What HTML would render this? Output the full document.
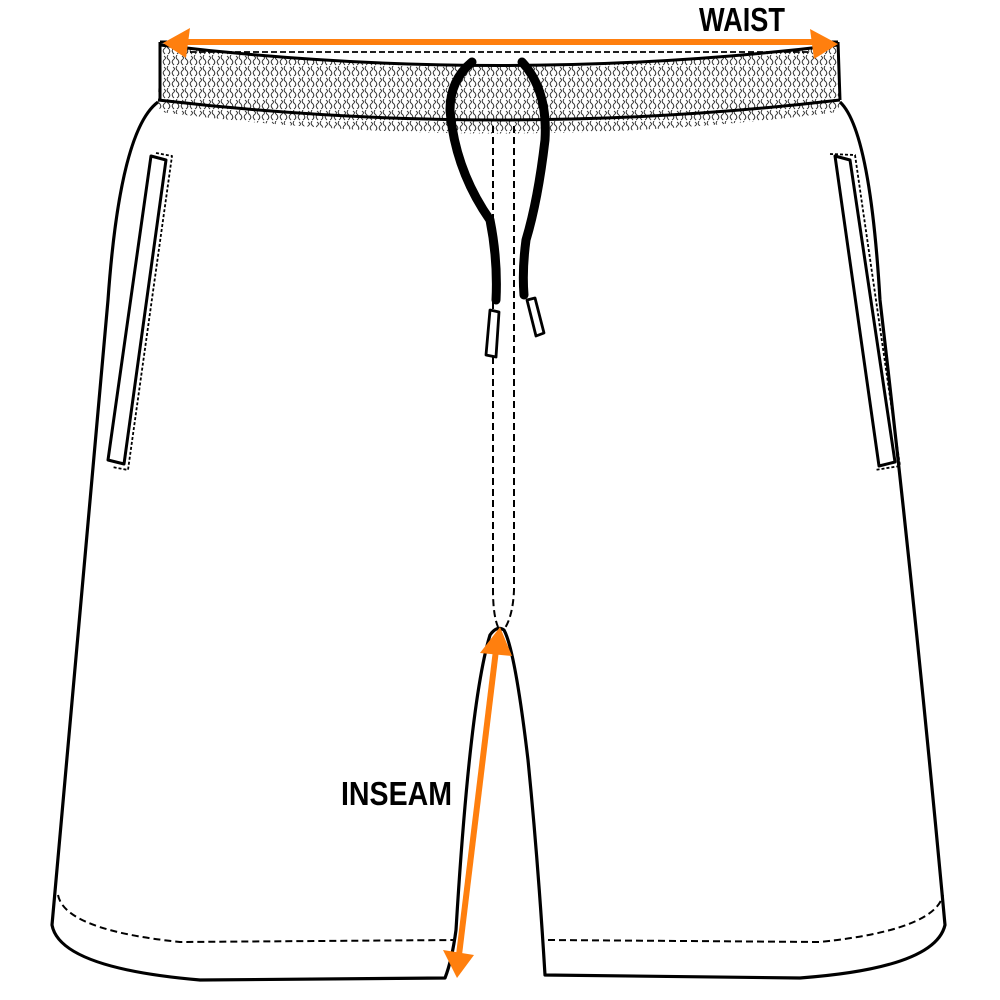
<!DOCTYPE html>
<html><head><style>html,body{margin:0;padding:0;background:#fff}svg{display:block}</style></head>
<body>
<svg width="1000" height="1000" viewBox="0 0 1000 1000" xmlns="http://www.w3.org/2000/svg">
<defs>
<pattern id="tx" width="9" height="11" patternUnits="userSpaceOnUse">
<path d="M2 1 q3 2 0 4 q-2 2 1 5 M6 0 q-2 3 1 5 q2 3 -1 5" stroke="#333" stroke-width="1" fill="none"/>
</pattern>
</defs>
<g fill="none" stroke="#000" stroke-width="3" stroke-linejoin="round">
<!-- waistband texture -->
<path d="M160 42 L838 42 L840 100 Q500 140 158 100 Z" fill="url(#tx)" stroke="none"/>
<path d="M158 100 Q500 140 840 100 L838 112 Q500 155 160 112 Z" fill="url(#tx)" stroke="none"/>
<path d="M160 44 Q500 86 838 44 L838 42 L160 42 Z" fill="#fff" stroke="none"/>
<path d="M160 42 L160 100 M838 42 L840 100"/>
<path d="M160 42 L838 42"/>
<path d="M160 45 Q500 86 838 45"/>
<path d="M190 52 L810 52" stroke-width="1.8" stroke-dasharray="6 3"/>
<path d="M158 100 Q500 140 840 100"/>
<!-- body -->
<path d="M158 102 Q120 130 108 300 Q80 600 52 925 Q60 968 200 980 L445 978 Q452 960 456 930 Q470 700 490 635 Q497 625 504 630 Q515 650 528 760 Q538 860 545 975 L800 978 Q935 968 945 925 Q915 600 880 300 Q870 130 840 102" stroke-width="3.2"/>
<!-- hems -->
<path d="M58 895 Q65 930 180 942 L455 940" stroke-width="2" stroke-dasharray="7 4"/>
<path d="M548 940 L820 942 Q935 930 943 895" stroke-width="2" stroke-dasharray="7 4"/>
<!-- fly -->
<path d="M493 126 L493 590 Q493 615 498 627" stroke-width="2" stroke-dasharray="7 4"/>
<path d="M514 126 L514 590 Q513 615 505 628" stroke-width="2" stroke-dasharray="7 4"/>
<!-- pockets -->
<path d="M151 156 L166 160 L124 464 L108 460 Z" stroke-width="3"/>
<path d="M156 153 L172 156 L128 470 L112 467" stroke-width="1.8" stroke-dasharray="3 2"/>
<path d="M835 156 L850 160 L895 462 L879 466 Z" stroke-width="3"/>
<path d="M830 154 L855 155 L900 466 L875 470" stroke-width="1.8" stroke-dasharray="3 2"/>
<!-- drawstring -->
<path d="M472 62 Q450 80 450 110 Q455 170 490 220 Q498 260 496 300" stroke-width="9" stroke-linecap="round"/>
<path d="M522 62 Q548 90 545 140 Q538 200 526 240 Q522 270 524 295" stroke-width="9" stroke-linecap="round"/>
<path d="M490 310 L499 312 L496 357 L486 355 Z" fill="#fff" stroke-width="2.8"/>
<path d="M527 300 L535 298 L544 333 L536 336 Z" fill="#fff" stroke-width="2.8"/>
</g>
<!-- arrows -->
<g stroke="#ff7f0e" fill="#ff7f0e">
<line x1="180" y1="42" x2="820" y2="42" stroke-width="6"/>
<polygon points="163,43 190,28 186,58" stroke="none"/>
<polygon points="838,44 810,29 814,59" stroke="none"/>
<line x1="496" y1="650" x2="459" y2="955" stroke-width="6"/>
<polygon points="500,627 480,653 512,656" stroke="none"/>
<polygon points="457,978 443,950 474,955" stroke="none"/>
</g>
<g font-family="Liberation Sans, sans-serif" font-weight="bold" fill="#000" font-size="33">
<text x="699" y="31" textLength="86" lengthAdjust="spacingAndGlyphs">WAIST</text>
<text x="341" y="805" textLength="111" lengthAdjust="spacingAndGlyphs">INSEAM</text>
</g>
</svg>
</body></html>
